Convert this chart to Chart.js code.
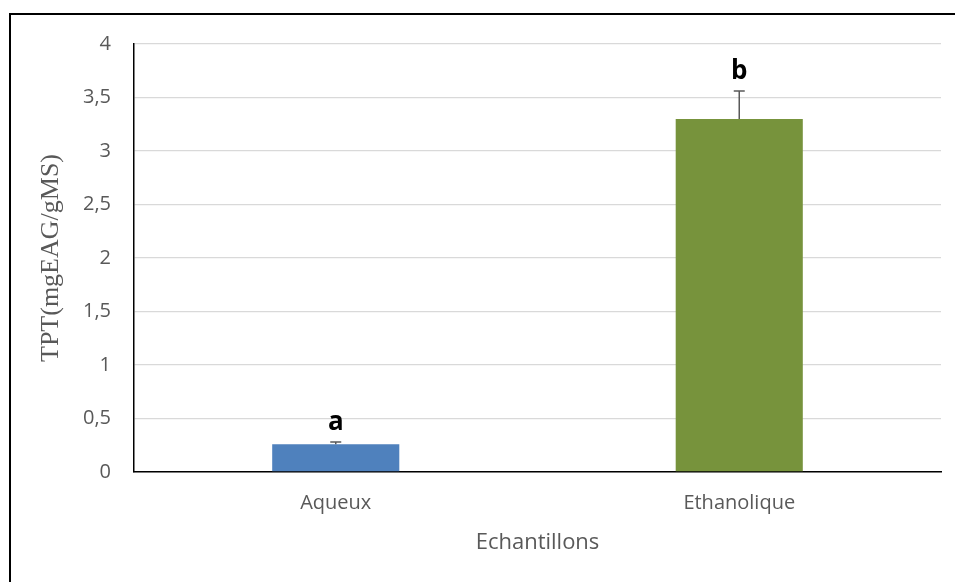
<!DOCTYPE html>
<html>
<head>
<meta charset="utf-8">
<script src="https://cdn.jsdelivr.net/npm/chart.js@4.4.1/dist/chart.umd.min.js"></script>
<style>
  html, body { margin: 0; padding: 0; background: #fff; }
  #wrap { width: 955px; height: 582px; position: relative; }
</style>
</head>
<body>
<div id="wrap"><canvas id="c" width="955" height="582"></canvas></div>
<script>
// Samples and total phenolic content (mg EAG / g MS)
const categories = ['Aqueux', 'Ethanolique'];
const tptValues = [0.26, 3.30];
const tptErrors = [0.02, 0.26];
const groupLetters = ['a', 'b'];
const barColors = ['#4F81BD', '#77933C'];
const yTicks = [0, 0.5, 1, 1.5, 2, 2.5, 3, 3.5, 4];

const GREY = '#595959';

// Outer frame around the chart
const framePlugin = {
  id: 'frame',
  beforeDraw(chart) {
    const ctx = chart.ctx;
    ctx.save();
    ctx.fillStyle = '#fff';
    ctx.fillRect(0, 0, chart.width, chart.height);
    ctx.strokeStyle = '#000';
    ctx.lineWidth = 2;
    ctx.beginPath();
    ctx.moveTo(10, chart.height + 2);
    ctx.lineTo(10, 14);
    ctx.lineTo(chart.width + 2, 14);
    ctx.stroke();
    ctx.restore();
  }
};

// Upper error bars and significance letters
const errorBarPlugin = {
  id: 'errorBars',
  afterDatasetsDraw(chart) {
    const ctx = chart.ctx;
    const y = chart.scales.y;
    const meta = chart.getDatasetMeta(0);
    ctx.save();
    meta.data.forEach((bar, i) => {
      const top = y.getPixelForValue(tptValues[i] + tptErrors[i]);
      ctx.strokeStyle = GREY;
      ctx.lineWidth = 1.5;
      ctx.beginPath();
      ctx.moveTo(bar.x, bar.y);
      ctx.lineTo(bar.x, top);
      ctx.moveTo(bar.x - 5.5, top);
      ctx.lineTo(bar.x + 5.5, top);
      ctx.stroke();

      ctx.fillStyle = '#000';
      ctx.font = 'bold 26px "Open Sans"';
      ctx.textAlign = 'center';
      ctx.textBaseline = 'alphabetic';
      ctx.fillText(groupLetters[i], bar.x, top - 12);
    });
    ctx.restore();
  }
};

new Chart(document.getElementById('c'), {
  type: 'bar',
  data: {
    labels: categories,
    datasets: [{
      data: tptValues,
      backgroundColor: barColors,
      borderWidth: 0,
      categoryPercentage: 1,
      barPercentage: 0.315
    }]
  },
  options: {
    responsive: false,
    animation: false,
    devicePixelRatio: 1,
    layout: { padding: { top: 44, right: 14, left: 0, bottom: 0 } },
    plugins: {
      legend: { display: false },
      tooltip: { enabled: false }
    },
    scales: {
      x: {
        grid: { display: false, drawTicks: false },
        border: { display: true, color: '#000', width: 1.5 },
        ticks: {
          color: GREY,
          font: { family: '"Open Sans"', size: 20 },
          padding: 19,
          maxRotation: 0
        },
        title: {
          display: true,
          text: 'Echantillons',
          color: GREY,
          font: { family: '"Open Sans"', size: 22 },
          padding: { top: 0, bottom: 26 }
        },
        afterFit(scale) { scale.height = 110; }
      },
      y: {
        min: 0,
        max: 4,
        afterBuildTicks(scale) { scale.ticks = yTicks.map(v => ({ value: v })); },
        grid: { color: '#D9D9D9', lineWidth: 1.3, drawTicks: false },
        border: { display: true, color: '#000', width: 1.5 },
        ticks: {
          color: GREY,
          font: { family: '"Open Sans"', size: 20 },
          padding: 23,
          callback: v => String(v).replace('.', ',')
        },
        title: {
          display: true,
          text: 'TPT(mgEAG/gMS)',
          color: GREY,
          font: { family: '"Liberation Serif"', size: 26 },
          padding: { top: 36, bottom: 0 }
        },
        afterFit(scale) {
          scale.width = 134;
          scale.paddingTop = 0;
          scale.paddingBottom = 0;
        }
      }
    }
  },
  plugins: [framePlugin, errorBarPlugin]
});
</script>
</body>
</html>
